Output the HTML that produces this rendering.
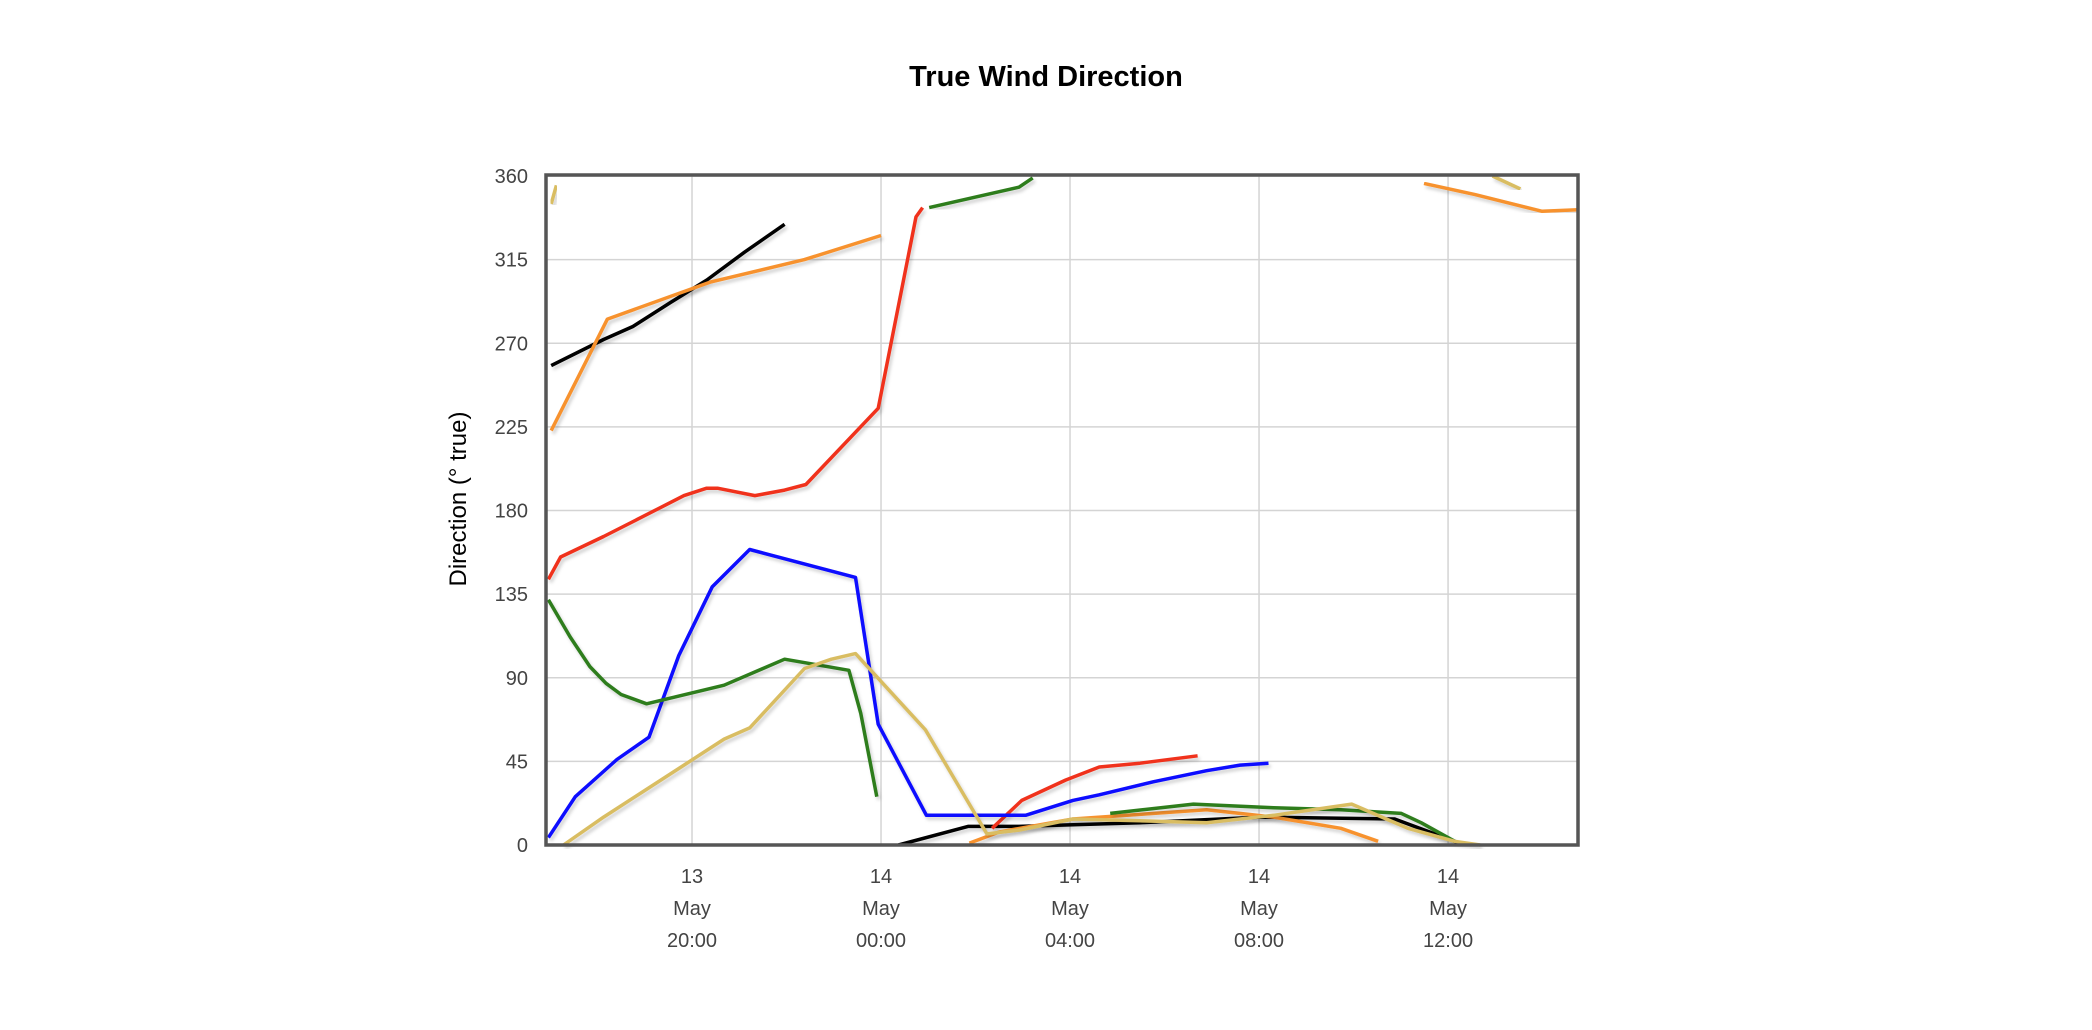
<!DOCTYPE html>
<html><head><meta charset="utf-8"><style>
html,body{margin:0;padding:0;background:#fff;}
svg{display:block;font-family:"Liberation Sans",sans-serif;}
</style></head><body>
<svg id="chart" width="2092" height="1030" viewBox="0 0 2092 1030" xmlns="http://www.w3.org/2000/svg">
<defs>
<clipPath id="pc"><rect x="546" y="170" width="1032" height="679"/></clipPath>
<filter id="sh" x="-5%" y="-5%" width="110%" height="110%"><feDropShadow dx="2" dy="3" stdDeviation="1.5" flood-color="#000" flood-opacity="0.18"/></filter>
</defs>
<text x="1046" y="86" text-anchor="middle" font-size="29" font-weight="bold" fill="#000">True Wind Direction</text>
<text transform="translate(466,499) rotate(-90)" text-anchor="middle" font-size="24" fill="#000">Direction (° true)</text>
<g id="grid"></g>
<g id="series" clip-path="url(#pc)"></g>
<rect x="546" y="175" width="1032" height="670" fill="none" stroke="#555" stroke-width="3.5"/>
<g id="labels"></g>
</svg>
<script>
const yTicks = [0,45,90,135,180,225,270,315,360];
const xTickHours = [20,24,28,32,36];
const xTickDay = ["13","14","14","14","14"];
const xTickTime = ["20:00","00:00","04:00","08:00","12:00"];
const seriesColors = ["#000000","#f7922f","#f0321e","#0a0aff","#2e7d1e","#d9bd62"];
// each series: arrays of [hours since 13 May 00:00, degrees]
const black1 = [[17.02,258],[18.13,272],[18.75,279],[19.55,292],[20.31,304],[21.11,319],[21.96,334]];
const black2 = [[24.37,0],[25.84,10],[26.92,10],[29.48,12],[32.03,15],[34.87,14],[36.14,2],[36.28,0]];
const black3 = [[36.34,361],[36.40,360]];
const orange1 = [[17.02,223],[18.21,283],[20.40,303],[22.38,315],[24.0,328]];
const orange2 = [[25.87,1],[26.50,7],[28.06,14],[30.89,19],[32.31,15],[33.73,9],[34.52,2]];
const orange3 = [[35.49,356],[36.57,350],[37.99,341],[38.89,342]];
const red1 = [[16.96,143],[17.22,155],[18.13,166],[18.98,177],[19.83,188],[20.31,192],[20.54,192],[21.33,188],[21.96,191],[22.41,194],[23.94,235],[24.74,338],[24.88,343]];
const red2 = [[26.35,9],[26.98,24],[27.91,35],[28.62,42],[29.48,44],[30.70,48]];
const blue1 = [[16.96,4],[17.53,26],[18.41,46],[19.09,58],[19.72,102],[20.43,139],[21.22,159],[23.46,144],[23.94,65],[24.96,16],[27.06,16],[28.06,24],[28.62,27],[29.76,34],[30.89,40],[31.60,43],[32.20,44]];
const green1 = [[16.96,132],[17.42,112],[17.84,96],[18.18,87],[18.50,81],[19.04,76],[20.68,86],[21.96,100],[23.32,94],[23.57,71],[23.91,26]];
const green2 = [[25.02,343],[26.92,354],[27.21,359]];
const green3 = [[28.85,17],[30.61,22],[32.31,20],[33.73,19],[35.01,17],[35.43,12],[36.14,2]];
const khaki1 = [[17.02,345],[17.13,355]];
const khaki2 = [[17.28,0],[18.13,15],[18.98,29],[19.83,43],[20.68,57],[21.22,63],[22.38,95],[22.95,100],[23.46,103],[24.94,62],[26.24,6],[26.92,8],[28.06,14],[29.48,13],[30.89,12],[32.31,16],[33.96,22],[35.15,9],[36.14,2],[36.68,0]];
const khaki3 = [[36.94,360],[37.53,353]];
const seriesList = [[black1,0],[black2,0],[black3,0],[orange1,1],[orange2,1],[orange3,1],[red1,2],[red2,2],[blue1,3],[green1,4],[green2,4],[green3,4],[khaki1,5],[khaki2,5],[khaki3,5]];

const X0=546,X1=1578,Y0=845,Y1=176,HMIN=16.91,HMAX=38.75;
function xs(h){return X0+(h-HMIN)/(HMAX-HMIN)*(X1-X0);}
function ys(d){return Y0-d/360*(Y0-Y1);}
const NS="http://www.w3.org/2000/svg";
const grid=document.getElementById('grid'),lab=document.getElementById('labels'),ser=document.getElementById('series');
yTicks.forEach(v=>{
  const l=document.createElementNS(NS,'line');
  
  
  l.setAttribute('x1',X0);l.setAttribute('x2',X1);l.setAttribute('y1',ys(v));l.setAttribute('y2',ys(v));
  l.setAttribute('stroke','#d4d4d4');l.setAttribute('stroke-width','1.5');grid.appendChild(l);
  const t=document.createElementNS(NS,'text');
  
  
  t.setAttribute('x',528);t.setAttribute('y',ys(v)+7);t.setAttribute('text-anchor','end');
  t.setAttribute('font-size','20');t.setAttribute('fill','#444');t.textContent=v;lab.appendChild(t);
});
xTickHours.forEach((h,i)=>{
  const l=document.createElementNS(NS,'line');
  
  
  l.setAttribute('x1',xs(h));l.setAttribute('x2',xs(h));l.setAttribute('y1',Y1);l.setAttribute('y2',Y0);
  l.setAttribute('stroke','#d4d4d4');l.setAttribute('stroke-width','1.5');grid.appendChild(l);
  [xTickDay[i],'May',xTickTime[i]].forEach((s,j)=>{
    const t=document.createElementNS(NS,'text');
    
    
    t.setAttribute('x',xs(h));t.setAttribute('y',883+j*32);t.setAttribute('text-anchor','middle');
    t.setAttribute('font-size','20');t.setAttribute('fill','#444');t.textContent=s;lab.appendChild(t);
  });
});
seriesList.forEach(([pts,c])=>{
  const p=document.createElementNS(NS,'polyline');
  
  
  p.setAttribute('points',pts.map(q=>xs(q[0]).toFixed(1)+','+ys(q[1]).toFixed(1)).join(' '));
  p.setAttribute('fill','none');p.setAttribute('stroke',seriesColors[c]);p.setAttribute('stroke-width','3.5');
  p.setAttribute('stroke-linejoin','round');p.setAttribute('filter','url(#sh)');
  ser.appendChild(p);
});
</script>
</body></html>
